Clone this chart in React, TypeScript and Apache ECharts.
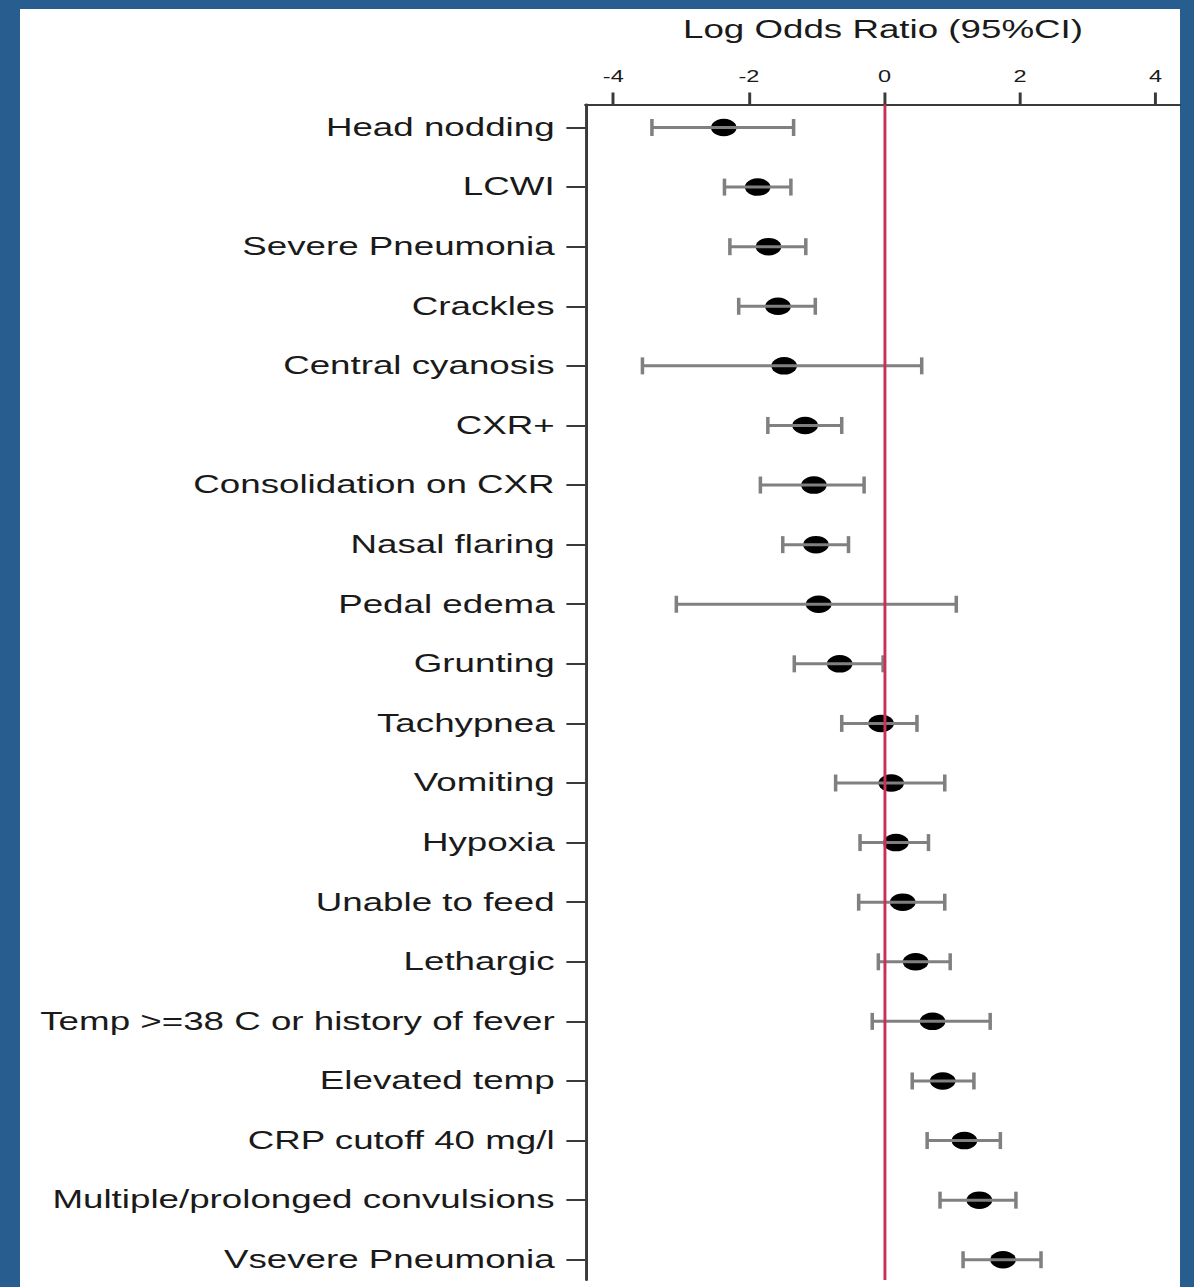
import React, { useEffect, useRef } from "react";
import * as echarts from "echarts";

// ---- data (top to bottom) ----
const categories = [
  "Head nodding",
  "LCWI",
  "Severe Pneumonia",
  "Crackles",
  "Central cyanosis",
  "CXR+",
  "Consolidation on CXR",
  "Nasal flaring",
  "Pedal edema",
  "Grunting",
  "Tachypnea",
  "Vomiting",
  "Hypoxia",
  "Unable to feed",
  "Lethargic",
  "Temp >=38 C or history of fever",
  "Elevated temp",
  "CRP cutoff 40 mg/l",
  "Multiple/prolonged convulsions",
  "Vsevere Pneumonia",
];
const estimates = [-2.37, -1.87, -1.71, -1.57, -1.48, -1.17, -1.04, -1.01, -0.97, -0.66, -0.05, 0.1, 0.17, 0.27, 0.46, 0.71, 0.86, 1.18, 1.4, 1.75];
const lowerCI = [-3.43, -2.36, -2.28, -2.15, -3.57, -1.72, -1.83, -1.5, -3.07, -1.33, -0.63, -0.72, -0.36, -0.38, -0.09, -0.18, 0.41, 0.63, 0.82, 1.16];
const upperCI = [-1.34, -1.38, -1.16, -1.02, 0.55, -0.63, -0.3, -0.53, 1.06, -0.02, 0.48, 0.89, 0.65, 0.89, 0.97, 1.56, 1.32, 1.71, 1.94, 2.31];
const xTicks = [-4, -2, 0, 2, 4];
const titleText = "Log Odds Ratio (95%CI)";

// ---- layout ----
const S = 1.47; // horizontal stretch of the original picture
const PAGE_W = 1194;
const PAGE_H = 1287;
const W = PAGE_W / S;
const X = (px: number) => px / S;
const BLUE = "#275d8f";
const FONT = '"Liberation Sans", Arial, Helvetica, sans-serif';

export default function App() {
  const ref = useRef<HTMLDivElement>(null);

  useEffect(() => {
    if (!ref.current) return;
    const chart = echarts.init(ref.current, undefined, { renderer: "svg" });
    const rowIdx = categories.map((_, i) => i);

    const option: any = {
      animation: false,
      backgroundColor: BLUE,
      graphic: [
        {
          type: "rect",
          z: -100,
          shape: { x: X(20), y: 9, width: X(1180) - X(20), height: PAGE_H },
          style: { fill: "#ffffff" },
          silent: true,
        },
        {
          type: "text",
          z: 10,
          x: X(883),
          y: 30,
          style: {
            text: titleText,
            fill: "#1a1a1a",
            fontSize: 25,
            fontFamily: FONT,
            align: "center",
            verticalAlign: "middle",
          },
          silent: true,
        },
      ],
      grid: {
        left: X(585.5),
        right: W - X(1180),
        top: 104.5,
        bottom: PAGE_H - 1280,
        containLabel: false,
      },
      xAxis: {
        type: "value",
        position: "top",
        min: -4.41,
        max: 4.355,
        axisLine: { show: true, onZero: false, lineStyle: { color: "#3a3a3a", width: 2 } },
        axisTick: {
          show: true,
          length: 12,
          inside: false,
          customValues: xTicks,
          lineStyle: { color: "#3a3a3a", width: 2 },
        },
        axisLabel: {
          show: true,
          customValues: xTicks,
          margin: 20,
          fontSize: 16,
          fontFamily: FONT,
          color: "#1a1a1a",
        },
        splitLine: { show: false },
      },
      yAxis: {
        type: "value",
        inverse: true,
        position: "left",
        min: -0.386,
        max: 19.34,
        axisLine: { show: true, onZero: false, lineStyle: { color: "#3a3a3a", width: 2 } },
        axisTick: {
          show: true,
          length: 13,
          customValues: rowIdx,
          lineStyle: { color: "#3a3a3a", width: 2 },
        },
        axisLabel: {
          show: true,
          customValues: rowIdx,
          margin: 21,
          fontSize: 25,
          fontFamily: FONT,
          color: "#1a1a1a",
          formatter: (v: number) => categories[Math.round(v)] ?? "",
        },
        splitLine: { show: false },
      },
      series: [
        {
          type: "scatter",
          z: 2,
          symbol: "circle",
          symbolSize: 17.5,
          itemStyle: { color: "#000000", opacity: 1 },
          data: estimates.map((e, i) => [e, i]),
          silent: true,
        },
        {
          type: "custom",
          z: 3,
          silent: true,
          data: lowerCI.map((lo, i) => [lo, upperCI[i], i]),
          renderItem: (params: any, api: any) => {
            const lo = api.coord([api.value(0), api.value(2)]);
            const hi = api.coord([api.value(1), api.value(2)]);
            const capH = 8.5;
            const style = { stroke: "#808080", lineWidth: 3 };
            const capStyle = { stroke: "#808080", lineWidth: 2.4 };
            return {
              type: "group",
              children: [
                { type: "line", shape: { x1: lo[0], y1: lo[1], x2: hi[0], y2: hi[1] }, style },
                { type: "line", shape: { x1: lo[0], y1: lo[1] - capH, x2: lo[0], y2: lo[1] + capH }, style: capStyle },
                { type: "line", shape: { x1: hi[0], y1: hi[1] - capH, x2: hi[0], y2: hi[1] + capH }, style: capStyle },
              ],
            };
          },
          markLine: {
            silent: true,
            symbol: ["none", "none"],
            label: { show: false },
            lineStyle: { color: "#cc2f55", width: 2, type: "solid" },
            data: [{ xAxis: 0 }],
          },
        },
      ],
    };

    chart.setOption(option);
    return () => chart.dispose();
  }, []);

  return (
    <div
      style={{
        position: "absolute",
        left: 0,
        top: 0,
        width: PAGE_W,
        height: PAGE_H,
        overflow: "hidden",
        background: BLUE,
      }}
    >
      <div
        ref={ref}
        style={{
          width: W,
          height: PAGE_H,
          transform: `scaleX(${S})`,
          transformOrigin: "0 0",
        }}
      />
    </div>
  );
}
